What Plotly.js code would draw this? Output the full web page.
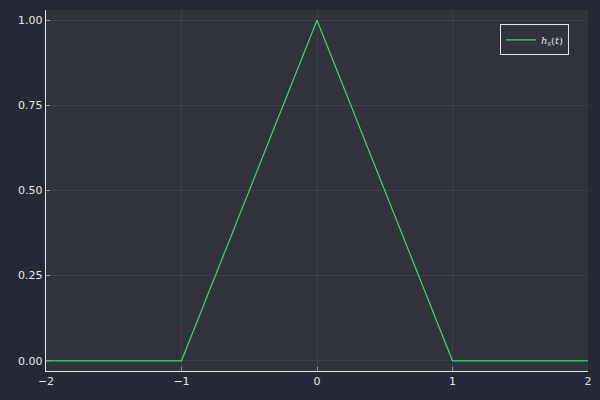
<!DOCTYPE html>
<html>
<head>
<meta charset="utf-8">
<script src="https://cdn.plot.ly/plotly-3.0.1.min.js"></script>
<style>
  html, body { margin: 0; padding: 0; background: #262935; }
  #chart { width: 600px; height: 400px; }
</style>
</head>
<body>
<div id="chart"></div>
<script>
// Triangular pulse h_s(t): corner points
const t = [-2, -1, 0, 1, 2];
const h = [0, 0, 1, 0, 0];

const xTicks = [-2, -1, 0, 1, 2];
const xTickText = ['\u22122', '\u22121', '0', '1', '2'];
const yTicks = [0, 0.25, 0.5, 0.75, 1.0];
const yTickText = ['0.00', '0.25', '0.50', '0.75', '1.00'];

const trace = {
  x: t,
  y: h,
  mode: 'lines',
  name: '<i>h<sub>s</sub></i>(<i>t</i>)',
  line: { color: '#3dd672', width: 1.2 }
};

const axisCommon = {
  showline: true,
  linecolor: '#e6e6e6',
  linewidth: 1.2,
  mirror: false,
  showgrid: true,
  gridcolor: 'rgba(255,255,255,0.06)',
  gridwidth: 1,
  zeroline: false,
  ticks: 'inside',
  ticklen: 4,
  tickcolor: '#9a9a9a',
  tickfont: { family: 'DejaVu Sans', size: 11, color: '#e6e6e6' }
};

const layout = {
  width: 600,
  height: 400,
  paper_bgcolor: '#262935',
  plot_bgcolor: '#30333b',
  margin: { l: 46, r: 12, t: 10, b: 29 },
  showlegend: true,
  legend: {
    x: 0.965, y: 0.96, xanchor: 'right', yanchor: 'top',
    bgcolor: '#30333b',
    bordercolor: '#e6e6e6',
    borderwidth: 1,
    font: { family: 'DejaVu Serif', size: 10, color: '#e6e6e6' }
  },
  xaxis: Object.assign({}, axisCommon, {
    range: [-2, 2],
    tickvals: xTicks,
    ticktext: xTickText
  }),
  yaxis: Object.assign({}, axisCommon, {
    range: [-0.03, 1.03],
    tickvals: yTicks,
    ticktext: yTickText
  })
};

Plotly.newPlot('chart', [trace], layout, { displayModeBar: false, staticPlot: true });
</script>
</body>
</html>
